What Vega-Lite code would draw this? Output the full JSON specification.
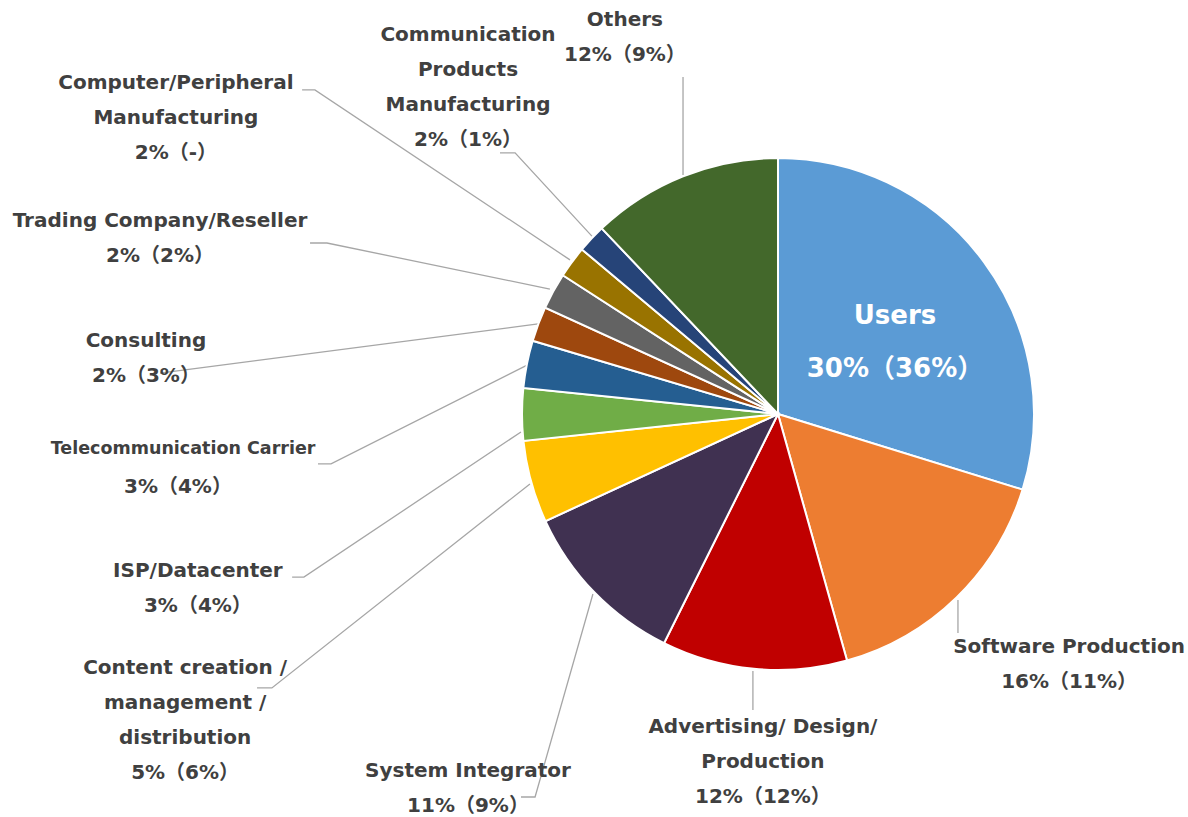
{
  "$schema": "https://vega.github.io/schema/vega-lite/v6.json",
  "width": 1188,
  "height": 817,
  "autosize": {"type": "none"},
  "padding": 0,
  "background": "white",
  "config": {"view": {"stroke": null}},
  "datasets": {
    "slices": [
      {"idx": 1, "sector": "Users", "share": 29.8},
      {"idx": 2, "sector": "Software Production", "share": 15.9},
      {"idx": 3, "sector": "Advertising/ Design/ Production", "share": 11.7},
      {"idx": 4, "sector": "System Integrator", "share": 10.8},
      {"idx": 5, "sector": "Content creation / management / distribution", "share": 5.2},
      {"idx": 6, "sector": "ISP/Datacenter", "share": 3.3},
      {"idx": 7, "sector": "Telecommunication Carrier", "share": 3.0},
      {"idx": 8, "sector": "Consulting", "share": 2.2},
      {"idx": 9, "sector": "Trading Company/Reseller", "share": 2.3},
      {"idx": 10, "sector": "Computer/Peripheral Manufacturing", "share": 2.0},
      {"idx": 11, "sector": "Communication Products Manufacturing", "share": 1.8},
      {"idx": 12, "sector": "Others", "share": 12.1}
    ],
    "leaders": [
      {"sector": "Software Production", "seq": 1, "x": 0.703, "y": -0.727},
      {"sector": "Software Production", "seq": 2, "x": 0.703, "y": -0.855},
      {"sector": "Advertising/ Design/ Production", "seq": 1, "x": -0.098, "y": -1.004},
      {"sector": "Advertising/ Design/ Production", "seq": 2, "x": -0.098, "y": -1.156},
      {"sector": "System Integrator", "seq": 1, "x": -0.723, "y": -0.703},
      {"sector": "System Integrator", "seq": 2, "x": -0.949, "y": -1.496},
      {"sector": "System Integrator", "seq": 3, "x": -1.004, "y": -1.496},
      {"sector": "Content creation / management / distribution", "seq": 1, "x": -0.969, "y": -0.273},
      {"sector": "Content creation / management / distribution", "seq": 2, "x": -1.977, "y": -1.07},
      {"sector": "Content creation / management / distribution", "seq": 3, "x": -2.035, "y": -1.07},
      {"sector": "ISP/Datacenter", "seq": 1, "x": -1.004, "y": -0.07},
      {"sector": "ISP/Datacenter", "seq": 2, "x": -1.852, "y": -0.637},
      {"sector": "ISP/Datacenter", "seq": 3, "x": -1.898, "y": -0.637},
      {"sector": "Telecommunication Carrier", "seq": 1, "x": -0.98, "y": 0.191},
      {"sector": "Telecommunication Carrier", "seq": 2, "x": -1.746, "y": -0.195},
      {"sector": "Telecommunication Carrier", "seq": 3, "x": -1.797, "y": -0.195},
      {"sector": "Consulting", "seq": 1, "x": -0.9375, "y": 0.352},
      {"sector": "Consulting", "seq": 2, "x": -2.414, "y": 0.16},
      {"sector": "Trading Company/Reseller", "seq": 1, "x": -0.891, "y": 0.488},
      {"sector": "Trading Company/Reseller", "seq": 2, "x": -1.762, "y": 0.668},
      {"sector": "Trading Company/Reseller", "seq": 3, "x": -1.828, "y": 0.668},
      {"sector": "Computer/Peripheral Manufacturing", "seq": 1, "x": -0.8125, "y": 0.602},
      {"sector": "Computer/Peripheral Manufacturing", "seq": 2, "x": -1.809, "y": 1.266},
      {"sector": "Computer/Peripheral Manufacturing", "seq": 3, "x": -1.859, "y": 1.266},
      {"sector": "Communication Products Manufacturing", "seq": 1, "x": -0.727, "y": 0.695},
      {"sector": "Communication Products Manufacturing", "seq": 2, "x": -1.027, "y": 1.02},
      {"sector": "Communication Products Manufacturing", "seq": 3, "x": -1.086, "y": 1.02},
      {"sector": "Others", "seq": 1, "x": -0.371, "y": 0.934},
      {"sector": "Others", "seq": 2, "x": -0.371, "y": 1.316}
    ],
    "labels": [
      {"sector": "Users", "text": "Users\n30%（36%）", "lx": 0.457, "ly": 0.383},
      {"sector": "Software Production", "text": "Software Production\n16%（11%）", "lx": 1.137, "ly": -0.91},
      {"sector": "Advertising/ Design/ Production", "text": "Advertising/ Design/\nProduction\n12%（12%）", "lx": -0.059, "ly": -1.223},
      {"sector": "System Integrator", "text": "System Integrator\n11%（9%）", "lx": -1.211, "ly": -1.395},
      {"sector": "Content creation / management / distribution", "text": "Content creation /\nmanagement /\ndistribution\n5%（6%）", "lx": -2.316, "ly": -0.992},
      {"sector": "ISP/Datacenter", "text": "ISP/Datacenter\n3%（4%）", "lx": -2.266, "ly": -0.613},
      {"sector": "Telecommunication Carrier", "text": "Telecommunication Carrier", "lx": -2.324, "ly": -0.137},
      {"sector": "Telecommunication Carrier", "text": "3%（4%）", "lx": -2.344, "ly": -0.285},
      {"sector": "Consulting", "text": "Consulting\n2%（3%）", "lx": -2.469, "ly": 0.285},
      {"sector": "Trading Company/Reseller", "text": "Trading Company/Reseller\n2%（2%）", "lx": -2.414, "ly": 0.754},
      {"sector": "Computer/Peripheral Manufacturing", "text": "Computer/Peripheral\nManufacturing\n2%（-）", "lx": -2.352, "ly": 1.293},
      {"sector": "Communication Products Manufacturing", "text": "Communication\nProducts\nManufacturing\n2%（1%）", "lx": -1.211, "ly": 1.48},
      {"sector": "Others", "text": "Others\n12%（9%）", "lx": -0.598, "ly": 1.539}
    ]
  },
  "layer": [
    {
      "data": {"name": "leaders"},
      "mark": {"type": "line", "color": "#A6A6A6", "strokeWidth": 1.3},
      "encoding": {
        "x": {"field": "x", "type": "quantitative", "scale": {"domain": [-3.0391, 1.6016], "nice": false, "zero": false}, "axis": null},
        "y": {"field": "y", "type": "quantitative", "scale": {"domain": [-1.5742, 1.6172], "nice": false, "zero": false}, "axis": null},
        "detail": {"field": "sector", "type": "nominal"},
        "order": {"field": "seq", "type": "quantitative"}
      }
    },
    {
      "data": {"name": "slices"},
      "mark": {"type": "arc", "outerRadius": 256, "stroke": "white", "strokeWidth": 2},
      "encoding": {
        "x": {"datum": 0, "type": "quantitative", "scale": {"domain": [-3.0391, 1.6016], "nice": false, "zero": false}, "axis": null},
        "y": {"datum": 0, "type": "quantitative", "scale": {"domain": [-1.5742, 1.6172], "nice": false, "zero": false}, "axis": null},
        "theta": {"field": "share", "type": "quantitative", "stack": true},
        "order": {"field": "idx", "type": "quantitative"},
        "color": {
          "field": "sector",
          "type": "nominal",
          "legend": null,
          "scale": {
            "domain": ["Users", "Software Production", "Advertising/ Design/ Production", "System Integrator", "Content creation / management / distribution", "ISP/Datacenter", "Telecommunication Carrier", "Consulting", "Trading Company/Reseller", "Computer/Peripheral Manufacturing", "Communication Products Manufacturing", "Others"],
            "range": ["#5B9BD5", "#ED7D31", "#C00000", "#403151", "#FFC000", "#70AD47", "#255E91", "#9E480E", "#636363", "#997300", "#264478", "#43682B"]
          }
        }
      }
    },
    {
      "data": {"name": "labels"},
      "transform": [{"filter": "datum.sector !== 'Users' && datum.text !== 'Telecommunication Carrier'"}],
      "mark": {"type": "text", "font": "DejaVu Sans, Noto Sans CJK JP", "fontWeight": "bold", "fontSize": 20, "color": "#404040", "lineBreak": "\n", "lineHeight": 35, "align": "center", "baseline": "middle"},
      "encoding": {
        "x": {"field": "lx", "type": "quantitative", "scale": {"domain": [-3.0391, 1.6016], "nice": false, "zero": false}, "axis": null},
        "y": {"field": "ly", "type": "quantitative", "scale": {"domain": [-1.5742, 1.6172], "nice": false, "zero": false}, "axis": null},
        "text": {"field": "text", "type": "nominal"}
      }
    },
    {
      "data": {"name": "labels"},
      "transform": [{"filter": "datum.text === 'Telecommunication Carrier'"}],
      "mark": {"type": "text", "font": "DejaVu Sans, Noto Sans CJK JP", "fontWeight": "bold", "fontSize": 17.5, "color": "#404040", "align": "center", "baseline": "middle"},
      "encoding": {
        "x": {"field": "lx", "type": "quantitative", "scale": {"domain": [-3.0391, 1.6016], "nice": false, "zero": false}, "axis": null},
        "y": {"field": "ly", "type": "quantitative", "scale": {"domain": [-1.5742, 1.6172], "nice": false, "zero": false}, "axis": null},
        "text": {"field": "text", "type": "nominal"}
      }
    },
    {
      "data": {"name": "labels"},
      "transform": [{"filter": "datum.sector === 'Users'"}],
      "mark": {"type": "text", "font": "DejaVu Sans, Noto Sans CJK JP", "fontWeight": "bold", "fontSize": 26, "color": "white", "lineBreak": "\n", "lineHeight": 53, "align": "center", "baseline": "middle"},
      "encoding": {
        "x": {"field": "lx", "type": "quantitative", "scale": {"domain": [-3.0391, 1.6016], "nice": false, "zero": false}, "axis": null},
        "y": {"field": "ly", "type": "quantitative", "scale": {"domain": [-1.5742, 1.6172], "nice": false, "zero": false}, "axis": null},
        "text": {"field": "text", "type": "nominal"}
      }
    }
  ]
}
